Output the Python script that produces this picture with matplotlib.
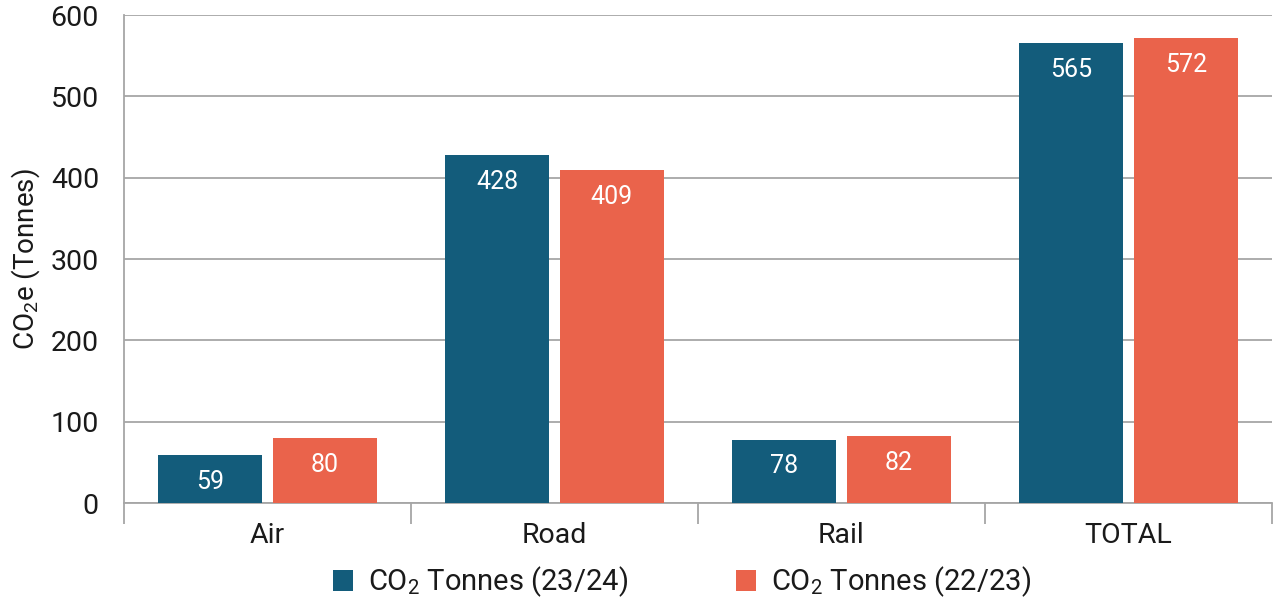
import matplotlib
matplotlib.use("Agg")
import matplotlib.pyplot as plt
import numpy as np

categories = ["Air", "Road", "Rail", "TOTAL"]
series_2324 = [59, 428, 78, 565]
series_2223 = [80, 409, 82, 572]
yticks = [0, 100, 200, 300, 400, 500, 600]

FONT = "Roboto"
plt.rcParams['font.family'] = [FONT, 'DejaVu Sans']
plt.rcParams['mathtext.fontset'] = 'custom'
plt.rcParams['mathtext.rm'] = FONT
plt.rcParams['mathtext.it'] = FONT
plt.rcParams['mathtext.default'] = 'regular'

BLUE = "#135c7b"
ORANGE = "#ea634b"
GRID = "#a6a6a6"
TEXT = "#1a1a1a"

fig = plt.figure(figsize=(12.74, 6.05), dpi=100)
ax = fig.add_axes([124/1274, 1-503/605, (1272-124)/1274, (503-15)/605])

x = np.arange(len(categories))
w = 0.362
off = 0.2
b1 = ax.bar(x - off, series_2324, w, color=BLUE, label="CO$_2$ Tonnes (23/24)", zorder=3)
b2 = ax.bar(x + off, series_2223, w, color=ORANGE, label="CO$_2$ Tonnes (22/23)", zorder=3)

for bars, vals in ((b1, series_2324), (b2, series_2223)):
    for r, v in zip(bars, vals):
        ax.text(r.get_x() + r.get_width()/2, v - 33, str(v), ha='center', va='center',
                color='white', fontsize=18, zorder=4)

ax.set_xlim(-0.5, len(categories) - 0.5)
ax.set_ylim(0, 600)
ax.set_yticks(yticks)
ax.set_yticklabels([str(t) for t in yticks], fontsize=20.5, color=TEXT)
ax.yaxis.grid(True, color=GRID, linewidth=1.3, zorder=0)
ax.tick_params(axis='y', length=0, pad=18)

ax.set_xticks(x)
ax.set_xticklabels(categories, fontsize=20.5, color=TEXT)
ax.tick_params(axis='x', length=0, pad=14)
ax.set_xticks(np.arange(-0.5, len(categories), 1.0), minor=True)
ax.tick_params(axis='x', which='minor', length=15, width=1.3, color=GRID)

for s in ['top', 'right']:
    ax.spines[s].set_visible(False)
for s in ['left', 'bottom']:
    ax.spines[s].set_color(GRID)
    ax.spines[s].set_linewidth(1.3)

ax.set_ylabel("CO$_2$e (Tonnes)", fontsize=20, color=TEXT, labelpad=6)

leg = fig.legend(handles=[b1, b2], loc='center', bbox_to_anchor=(682/1274, 1-582/605),
                 ncol=2, frameon=False, fontsize=21, handlelength=0.7, handleheight=0.7,
                 handletextpad=0.5, columnspacing=3.7)
for t in leg.get_texts():
    t.set_color(TEXT)

fig.savefig("out.png", dpi=100)
